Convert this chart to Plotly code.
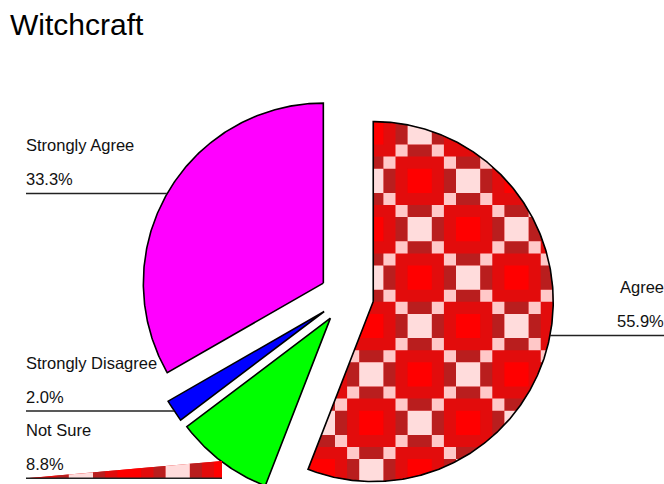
import numpy as np
import plotly.graph_objects as go

# ---- data -------------------------------------------------------------
labels = ["Agree", "Not Sure", "Strongly Disagree", "Strongly Agree"]
values = [55.9, 8.8, 2.0, 33.3]
pct_text = ["55.9%", "8.8%", "2.0%", "33.3%"]
slice_colors = [None, "#00FF00", "#0000FF", "#FF00FF"]   # None -> tartan fill
title_text = "Witchcraft"

# ---- geometry (pixel space, y grows downward) -------------------------
W, H = 664, 484
CX, CY = 346.7, 296.6      # pie centre
R = 180.0                  # slice radius
PULL = 27.0                # explode distance of every slice

# label layout: which side, y of the leader line, optional early stop
label_side = ["right", "left", "left", "left"]
leader_y = [335.5, 478.3, 411.0, 193.5]
leader_stop = [None, 222.0, None, None]
LEFT_X, RIGHT_X = 26.0, 664.0
FONT = "Liberation Sans, Arial, sans-serif"
LABEL_SIZE = 16.5

# tartan used for the patterned slice
TILE = 48.4
PAT_X0, PAT_Y0 = 395.5, 205.0
PAT = {
    ("pink", "center"): "#FFDCDC",
    ("pink", "side"): "#B91E1E",
    ("pink", "corner"): "#FFC8C8",
    ("red", "center"): "#FF0000",
    ("red", "side"): "#E20C0C",
    ("red", "corner"): "#E20C0C",
}

total = float(sum(values))
starts = np.concatenate([[0.0], np.cumsum(values)[:-1]]) / total * 360.0
ends = starts + np.array(values) / total * 360.0


def wedge(i):
    a0, a1 = starts[i], ends[i]
    mid = np.radians((a0 + a1) / 2)
    ax = CX + PULL * np.sin(mid)
    ay = CY - PULL * np.cos(mid)
    n = max(8, int((a1 - a0) * 2))
    th = np.radians(np.linspace(a0, a1, n))
    xs = np.concatenate([[ax], ax + R * np.sin(th)])
    ys = np.concatenate([[ay], ay - R * np.cos(th)])
    return list(zip(xs, ys)), ax, ay


def clip_rect(pts, x0, x1, y0, y1):
    """Sutherland-Hodgman clip of a polygon against an axis-aligned box."""
    def clip(poly, inside, cut):
        out = []
        for k in range(len(poly)):
            cur, prev = poly[k], poly[k - 1]
            if inside(cur):
                if not inside(prev):
                    out.append(cut(prev, cur))
                out.append(cur)
            elif inside(prev):
                out.append(cut(prev, cur))
        return out

    def at_x(xc):
        return lambda p, q: (xc, p[1] + (q[1] - p[1]) * (xc - p[0]) / (q[0] - p[0]))

    def at_y(yc):
        return lambda p, q: (p[0] + (q[0] - p[0]) * (yc - p[1]) / (q[1] - p[1]), yc)

    edges = [
        (lambda p: p[0] >= x0, at_x(x0)),
        (lambda p: p[0] <= x1, at_x(x1)),
        (lambda p: p[1] >= y0, at_y(y0)),
        (lambda p: p[1] <= y1, at_y(y1)),
    ]
    for inside, cut in edges:
        pts = clip(pts, inside, cut)
        if not pts:
            break
    return pts


def bands(lo, hi, origin):
    k0 = int(np.floor((lo - origin) / TILE)) - 1
    k1 = int(np.ceil((hi - origin) / TILE)) + 1
    cuts = []
    for k in range(k0, k1 + 1):
        b = origin + k * TILE
        cuts += [b, b + 0.25 * TILE, b + 0.75 * TILE]
    cuts = [c for c in cuts if lo - TILE < c < hi + TILE]
    out = []
    for a, b in zip(cuts[:-1], cuts[1:]):
        m = 0.5 * (a + b)
        frac = ((m - origin) % TILE) / TILE
        out.append((a, b, int(np.floor((m - origin) / TILE)), 0.25 <= frac < 0.75))
    return out


def tartan_cells(poly):
    xs = [p[0] for p in poly]
    ys = [p[1] for p in poly]
    groups = {}
    for (x0, x1, i, cx) in bands(min(xs), max(xs), PAT_X0):
        for (y0, y1, j, cy) in bands(min(ys), max(ys), PAT_Y0):
            piece = clip_rect(poly, x0, x1, y0, y1)
            if len(piece) < 3:
                continue
            block = "pink" if (i + j) % 2 == 0 else "red"
            kind = "center" if (cx and cy) else ("side" if (cx or cy) else "corner")
            col = PAT[(block, kind)]
            gx, gy = groups.setdefault(col, ([], []))
            gx += [p[0] for p in piece] + [piece[0][0], None]
            gy += [p[1] for p in piece] + [piece[0][1], None]
    return groups


fig = go.Figure()


def add_tartan(poly, name):
    fig.add_trace(go.Scatter(
        x=[p[0] for p in poly] + [poly[0][0]], y=[p[1] for p in poly] + [poly[0][1]],
        mode="none", fill="toself", fillcolor=PAT[("red", "side")],
        hoverinfo="skip", name=name))
    for col, (gx, gy) in tartan_cells(poly).items():
        fig.add_trace(go.Scatter(x=gx, y=gy, mode="none", fill="toself",
                                 fillcolor=col, hoverinfo="skip", name=name))


apex = {}
for i, lab in enumerate(labels):
    poly, ax, ay = wedge(i)
    apex[i] = (ax, ay)
    if slice_colors[i] is None:
        add_tartan(poly, lab)
    else:
        fig.add_trace(go.Scatter(
            x=[p[0] for p in poly] + [poly[0][0]], y=[p[1] for p in poly] + [poly[0][1]],
            mode="none", fill="toself", fillcolor=slice_colors[i],
            hoverinfo="skip", name=lab))
    fig.add_trace(go.Scatter(
        x=[p[0] for p in poly] + [poly[0][0]], y=[p[1] for p in poly] + [poly[0][1]],
        mode="lines", line=dict(color="#000000", width=1.6),
        hoverinfo="text", text=f"{lab}: {pct_text[i]}", name=lab))

# leader lines and labels
annotations = []
for i, lab in enumerate(labels):
    ly = leader_y[i]
    ax, ay = apex[i]
    half = np.sqrt(max(R ** 2 - (ly - ay) ** 2, 0.0))
    if label_side[i] == "right":
        x_line = [ax + half, RIGHT_X]
        pos = dict(x=1.0, xref="paper", xanchor="right", xshift=2)
    else:
        stop = leader_stop[i] if leader_stop[i] is not None else ax - half
        x_line = [LEFT_X, stop]
        pos = dict(x=LEFT_X - 2, xref="x", xanchor="left")
        if leader_stop[i] is not None:
            # short leader drawn as a tartan callout strip
            add_tartan([(LEFT_X, ly), (stop, ly - 17.3), (stop, ly)], lab)
    fig.add_trace(go.Scatter(x=x_line, y=[ly, ly], mode="lines",
                             line=dict(color="#222222", width=1.4),
                             hoverinfo="skip", name=lab))
    for txt, base in ((lab, ly - 42.5), (pct_text[i], ly - 8.5)):
        annotations.append(dict(
            y=base - 0.35 * LABEL_SIZE, yref="y",
            text=txt, showarrow=False, yanchor="middle",
            font=dict(family=FONT, size=LABEL_SIZE, color="#111111"), **pos))

fig.update_layout(
    width=W, height=H,
    margin=dict(l=0, r=0, t=0, b=0),
    paper_bgcolor="white", plot_bgcolor="white",
    showlegend=False,
    title=dict(text=title_text, x=10 / W, xanchor="left",
               y=1 - 24.5 / H, yanchor="middle",
               font=dict(family=FONT, size=30, color="#000000")),
    xaxis=dict(range=[0, W], visible=False, fixedrange=True),
    yaxis=dict(range=[H, 0], visible=False, fixedrange=True),
    annotations=annotations,
)

fig.write_html("out.html")
